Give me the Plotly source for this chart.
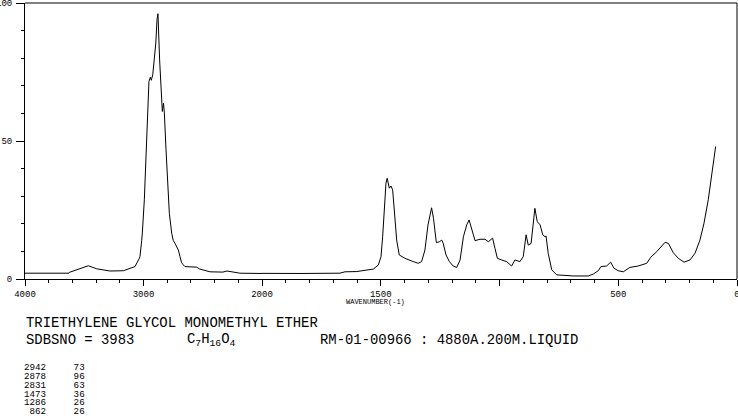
import plotly.graph_objects as go

# ---------------- data ----------------
wavenumber = [4000, 3629, 3626, 3550, 3466, 3395, 3283, 3170, 3072, 3035, 3030, 3015, 3010,
              2993, 2979, 2968, 2954, 2942, 2934, 2922, 2909, 2896, 2886, 2878, 2864, 2852,
              2841, 2831, 2824, 2810, 2796, 2782, 2762, 2749, 2734, 2706, 2692, 2679, 2664,
              2650, 2551, 2525, 2439, 2330, 2295, 2260, 2228, 2186, 2000, 1840, 1672, 1651,
              1601, 1587, 1545, 1531, 1510, 1499, 1492, 1485, 1478, 1473, 1464, 1457, 1450,
              1443, 1433, 1422, 1398, 1363, 1342, 1328, 1314, 1301, 1292, 1286, 1278, 1266,
              1253, 1243, 1237, 1225, 1211, 1195, 1180, 1166, 1152, 1138, 1128, 1117, 1103,
              1082, 1061, 1047, 1029, 1019, 1009, 991, 970, 949, 935, 914, 900, 888, 879, 867,
              858, 851, 841, 829, 818, 808, 804, 799, 795, 780, 759, 689, 626, 605, 584, 573,
              549, 532, 518, 500, 479, 451, 416, 380, 363, 338, 321, 303, 289, 268, 247, 223,
              198, 177, 156, 139, 121, 107, 97, 90]
intensity = [2.1, 2.1, 2.4, 3.5, 4.8, 3.7, 2.9, 3.0, 4.5, 7.5, 8.1, 14.0, 16.6,
             28.7, 46.8, 58.9, 71.6, 73.1, 72.0, 74.0, 78.8, 85.5, 94.0, 96.1, 79.4, 67.4,
             60.7, 63.7, 60.1, 46.8, 34.7, 23.8, 16.6, 14.0, 12.9, 10.5, 8.1, 6.0, 5.1,
             4.5, 4.3, 3.6, 2.6, 2.5, 2.9, 2.6, 2.3, 2.1, 2.0, 2.0, 2.1, 2.6,
             2.7, 2.9, 3.5, 3.6, 5.1, 8.1, 15.3, 27.5, 34.7, 36.5, 32.9, 33.7, 32.3,
             25.0, 14.1, 8.7, 7.5, 6.3, 5.7, 6.3, 10.5, 19.6, 23.8, 25.8, 22.0, 13.2,
             13.5, 14.1, 12.9, 8.7, 6.3, 4.7, 4.2, 6.9, 15.3, 19.6, 21.4, 18.4, 13.9,
             14.4, 14.4, 13.5, 14.8, 11.1, 7.5, 6.9, 6.3, 4.7, 6.9, 6.3, 8.1, 16.0, 12.3, 12.9,
             20.2, 25.6, 20.8, 19.6, 16.0, 15.3, 15.6, 11.7, 9.3, 3.3, 1.5, 1.1, 1.1, 1.8, 3.0, 4.5,
             4.7, 6.1, 3.9, 3.0, 2.6, 4.2, 4.7, 5.7, 7.9, 9.9, 11.7, 13.3, 12.9, 9.5, 7.5, 6.1,
             6.9, 9.3, 14.1, 20.2, 28.7, 38.3, 44.4, 48.0]

x_ticks_left = [4000, 3000]
x_labels_left = ["4000", "3000"]
x_ticks_right = [2000, 1500, 1000, 500, 0]
x_labels_right = ["2000", "1500", "", "500", "0"]
y_ticks = [0, 50, 100]
y_labels = ["0", "50", "100"]

title_text = "TRIETHYLENE GLYCOL MONOMETHYL ETHER"
sdbs_text = "SDBSNO = 3983"
formula_text = "C<sub>7</sub>H<sub>16</sub>O<sub>4</sub>"
cond_text = "RM-01-00966 : 4880A.200M.LIQUID"
axis_title = "WAVENUMBER(-1)"
peak_wn = [2942, 2878, 2831, 1473, 1286, 862]
peak_val = [73, 96, 63, 36, 26, 26]

# ---------------- layout helpers ----------------
W, H = 738, 418
L, R, T, B = 25, 1, 3, 139
PW, PH = W - L - R, H - T - B
split = (262 - L) / PW
MONO = "Liberation Mono"


def pxx(x):
    return (x - L) / PW


def pxy(y):
    return (H - B - y) / PH


line_style = dict(color="black", width=1)
fig = go.Figure()
fig.add_trace(go.Scatter(x=wavenumber, y=intensity, mode="lines", line=line_style,
                         xaxis="x", yaxis="y", hoverinfo="skip"))
fig.add_trace(go.Scatter(x=wavenumber, y=intensity, mode="lines", line=line_style,
                         xaxis="x2", yaxis="y", hoverinfo="skip"))

tickfont = dict(family=MONO, size=9, color="black")
common_x = dict(showgrid=False, zeroline=False, showline=True, linecolor="black", linewidth=1,
                ticks="outside", ticklen=6, tickwidth=1, tickcolor="black", tickfont=tickfont,
                tickmode="array", anchor="y", fixedrange=True, ticklabeloverflow="allow",
                automargin=False)

fig.update_layout(
    width=W, height=H,
    margin=dict(l=L, r=R, t=T, b=B, pad=0, autoexpand=False),
    paper_bgcolor="white", plot_bgcolor="white",
    showlegend=False,
    xaxis=dict(domain=[0, split], range=[4000, 2000], tickvals=x_ticks_left, ticktext=x_labels_left,
               minor=dict(tickmode="linear", tick0=0, dtick=200, ticks="outside", ticklen=3,
                          tickcolor="black", tickwidth=1),
               **common_x),
    xaxis2=dict(domain=[split, 1], range=[2000, 0], tickvals=x_ticks_right, ticktext=x_labels_right,
                minor=dict(tickmode="linear", tick0=0, dtick=100, ticks="outside", ticklen=3,
                           tickcolor="black", tickwidth=1),
                **common_x),
    yaxis=dict(domain=[0, 1], range=[0, 100], showgrid=False, zeroline=False, showline=True,
               linecolor="black", linewidth=1, ticks="outside", ticklen=8, tickwidth=1,
               tickcolor="black", tickfont=tickfont, tickmode="array", tickvals=y_ticks,
               ticktext=y_labels, ticklabelstandoff=2, fixedrange=True, ticklabeloverflow="allow",
               automargin=False,
               minor=dict(tickmode="linear", tick0=0, dtick=10, ticks="outside", ticklen=3,
                          tickcolor="black", tickwidth=1)),
    shapes=[
        dict(type="line", xref="paper", yref="paper", x0=0, x1=1, y0=1, y1=1, line=line_style),
        dict(type="line", xref="paper", yref="paper", x0=1, x1=1, y0=0, y1=1, line=line_style),
    ],
)

ann = []
big = dict(family=MONO, size=13.9, color="black")
small = dict(family=MONO, size=9.2, color="black")


def add(text, x, y, font, anchor="left"):
    ann.append(dict(text=text, x=pxx(x), y=pxy(y), xref="paper", yref="paper",
                    xanchor=anchor, yanchor="middle", showarrow=False, font=font))


add(axis_title, 344, 302, dict(family=MONO, size=7, color="black"))
add(title_text, 24, 323, big)
add(sdbs_text, 24, 340, big)
add(formula_text, 185, 340, big)
add(cond_text, 318, 340, big)
for i, (w, v) in enumerate(zip(peak_wn, peak_val)):
    add(f"{w:>4}     {v:>2}", 22, 368 + i * 8.7, small)

fig.update_layout(annotations=ann)
fig.write_html("out.html")
